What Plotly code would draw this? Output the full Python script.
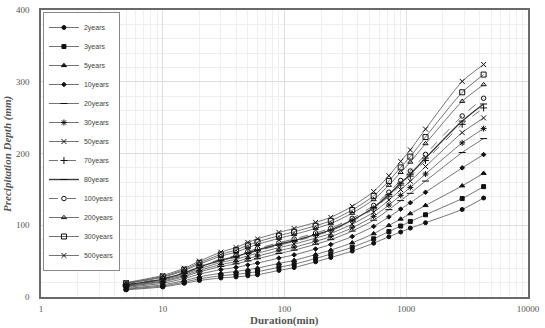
import plotly.graph_objects as go

durations = [5, 10, 15, 20, 30, 40, 50, 60, 90, 120, 180, 240, 360, 540, 720, 900, 1080, 1440, 2880, 4320]

y2 = [10, 14, 19, 23, 26.5, 28, 29.5, 31, 37, 41, 49, 55, 64, 75, 84, 90.5, 96, 103.5, 122, 138]
y3 = [10.9, 15.4, 20.8, 25.3, 29.6, 31.5, 33.5, 35.3, 41.5, 45.6, 53.7, 59.8, 69.3, 81.1, 91.2, 98.9, 105.3, 114.6, 137.2, 153.8]
y5 = [11.9, 17.0, 22.9, 28.0, 33.2, 35.6, 38.1, 40.3, 46.8, 51.1, 59.2, 65.4, 75.6, 88.3, 99.7, 108.7, 116.2, 127.6, 155.0, 172.4]
y10 = [13.3, 19.2, 25.8, 31.8, 38.2, 41.3, 44.6, 47.3, 54.2, 58.7, 66.9, 73.2, 84.3, 98.4, 111.6, 122.5, 131.4, 145.9, 180.0, 198.5]
y20 = [14.5, 21.1, 28.3, 35.0, 42.5, 46.2, 50.2, 53.3, 60.6, 65.3, 73.5, 79.9, 91.8, 107.0, 121.8, 134.3, 144.5, 161.6, 201.4, 220.8]
y30 = [15.2, 22.3, 29.9, 37.0, 45.2, 49.3, 53.7, 57.0, 64.6, 69.3, 77.6, 84.1, 96.5, 112.4, 128.2, 141.7, 152.7, 171.4, 214.8, 234.7]
y50 = [16.0, 23.6, 31.6, 39.2, 48.1, 52.6, 57.4, 61.0, 68.8, 73.7, 82.0, 88.6, 101.5, 118.2, 135.0, 149.6, 161.4, 181.8, 229.1, 249.6]
y70 = [16.7, 24.6, 33.0, 41.0, 50.4, 55.3, 60.4, 64.3, 72.2, 77.2, 85.6, 92.2, 105.6, 122.9, 140.5, 156.0, 168.5, 190.3, 240.7, 263.5]
y80 = [16.9, 25.0, 33.5, 41.6, 51.3, 56.3, 61.6, 65.5, 73.6, 78.6, 87.0, 93.6, 107.1, 124.7, 142.7, 158.5, 171.2, 193.6, 245.2, 269.0]
y100 = [17.3, 25.7, 34.3, 42.7, 52.8, 57.9, 63.5, 67.5, 75.7, 80.8, 89.2, 95.9, 109.6, 127.6, 146.1, 162.4, 175.6, 198.8, 252.3, 277.0]
y200 = [18.5, 27.5, 36.7, 45.8, 56.9, 62.6, 68.8, 73.3, 81.8, 87.1, 95.5, 102.3, 116.8, 135.8, 155.8, 173.7, 188.1, 213.8, 272.8, 296.0]
y300 = [19.2, 28.6, 38.2, 47.7, 59.4, 65.5, 72.1, 76.8, 85.5, 90.9, 99.3, 106.2, 121.2, 140.9, 161.8, 180.6, 195.7, 222.9, 285.3, 310.0]
y500 = [20, 30, 40, 50, 62.5, 69, 76, 81, 90, 95.5, 104, 111, 126.5, 147, 169, 189, 205, 234, 300.5, 324]

names = ["2years", "3years", "5years", "10years", "20years", "30years", "50years",
         "70years", "80years", "100years", "200years", "300years", "500years"]
series = [y2, y3, y5, y10, y20, y30, y50, y70, y80, y100, y200, y300, y500]
symbols = ["circle", "square", "triangle-up", "diamond", "line-ew-open", "asterisk-open",
           "x-thin-open", "cross-thin-open", "line-ew-open", "circle-open", "triangle-up-open",
           "square-open", "x-thin-open"]
sizes = [4, 4, 4.5, 3.5, 5, 5, 5, 5, 5, 4.5, 4.5, 5, 5]
dashes = ["solid"] * 7 + ["dash", "solid", "dash", "solid", "solid", "solid"]
lwidths = [0.7] * 8 + [1.4] + [0.7] * 4

minor_x = [m * 10 ** e for e in range(4) for m in range(2, 10)]

fig = go.Figure()
for nm, ys, sym, sz, ds, lw in zip(names, series, symbols, sizes, dashes, lwidths):
    fig.add_trace(go.Scatter(
        x=durations, y=ys, name=nm, mode="lines+markers",
        line=dict(color="#3a3a3a", width=lw, shape="spline", smoothing=0.6, dash=ds),
        marker=dict(symbol=sym, size=sz, color="#111111",
                    line=dict(color="#111111", width=1)),
    ))

grid_major = "#dedede"
grid_minor = "#efefef"
fig.update_xaxes(
    type="log", range=[0, 4],
    tickvals=[1, 10, 100, 1000, 10000], ticktext=["1", "10", "100", "1000", "10000"],
    showgrid=True, gridcolor=grid_major, gridwidth=1,
    minor=dict(showgrid=True, gridcolor=grid_minor, tickvals=minor_x, ticks=""),
    showline=True, linecolor="#6a6a6a", linewidth=1.5, mirror=True,
    ticks="outside", ticklen=2, tickcolor="rgba(0,0,0,0)",
    tickfont=dict(family="Liberation Serif", size=9, color="#555555"),
    zeroline=False,
)
fig.update_yaxes(
    range=[0, 400], tickvals=[0, 100, 200, 300, 400],
    showgrid=True, gridcolor=grid_major, gridwidth=1,
    minor=dict(showgrid=True, gridcolor=grid_minor, dtick=20, ticks=""),
    showline=True, linecolor="#6a6a6a", linewidth=1.5, mirror=True,
    ticks="outside", ticklen=8, tickcolor="rgba(0,0,0,0)",
    tickfont=dict(family="Liberation Serif", size=9, color="#555555"),
    zeroline=False,
)

fig.update_layout(
    width=545, height=328,
    margin=dict(l=41, r=13, t=5, b=31),
    paper_bgcolor="white", plot_bgcolor="white",
    showlegend=True,
    legend=dict(
        x=0.004, y=0.993, xanchor="left", yanchor="top",
        bgcolor="white", bordercolor="#888888", borderwidth=1,
        font=dict(family="Liberation Sans", size=7, color="#444444"),
        itemwidth=30, tracegroupgap=0,
    ),
    annotations=[
        dict(text="<b>Duration(min)</b>", xref="paper", yref="paper",
             x=0.5, y=-0.083, xanchor="center", yanchor="middle", showarrow=False,
             font=dict(family="Liberation Serif", size=11, color="#555555")),
        dict(text="<b><i>Precipitation Depth (mm)</i></b>", xref="paper", yref="paper",
             x=-0.069, y=0.5, xanchor="center", yanchor="middle", showarrow=False,
             textangle=-90,
             font=dict(family="Liberation Serif", size=11, color="#555555")),
    ],
)

fig.write_html("out.html")
